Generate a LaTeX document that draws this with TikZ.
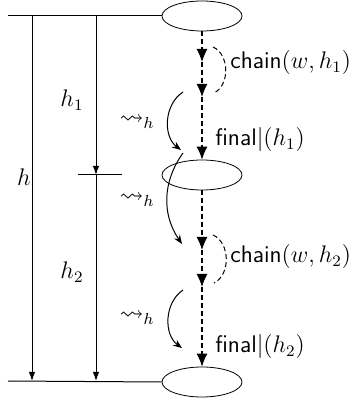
\documentclass[tikz,border=0pt]{standalone}
\usepackage{amsmath}
\usepackage{amssymb}
\usetikzlibrary{arrows.meta,calc,positioning,shapes.geometric}
\tikzset{
    state oval/.style={
        draw,
        ellipse,
        minimum width=40pt,
        minimum height=15pt,
        inner sep=0pt
    },
    time line/.style={line width=0.5pt},
    time arrow/.style={-{Latex[length=4.5pt,width=3.2pt]}, line width=0.5pt},
    chain arrow/.style={-{Latex[length=6.5pt,width=5.5pt]}, line width=0.55pt, dash pattern=on 2.5pt off 1.5pt},
    chain loop/.style={line width=0.5pt, dash pattern=on 2.5pt off 1.5pt},
    lead arrow/.style={-{Stealth[length=4.5pt,width=3.5pt]}, line width=0.5pt},
    step label/.style={anchor=west, inner sep=1pt, font=\large\sffamily}
}
\begin{document}
\begin{tikzpicture}[x=0.5pt,y=0.5pt,font=\large]
    \useasboundingbox (0,0) rectangle (359,400);

    % the three states
    \node[state oval] (top) at (202,384) {};
    \node[state oval] (mid) at (202,225) {};
    \node[state oval] (bot) at (202,18) {};

    % time axis on the left
    \coordinate (toplft) at (8,384);
    \coordinate (botlft) at (8,19);
    \coordinate (midlft) at (78,225);
    \coordinate (midrgt) at (122,225);
    \draw[time line] (toplft) -- (top.west);
    \draw[time line] (botlft) -- (bot.west);
    \draw[time line] (midlft) -- (midrgt);

    \coordinate (hstart) at (32,384);
    \coordinate (hend) at (32,19);
    \coordinate (hastart) at (96,384);
    \coordinate (hamid) at (96,225);
    \coordinate (haend) at (96,19);
    \draw[time arrow] (hstart) -- (hend);
    \draw[time arrow] (hastart) -- (hamid);
    \draw[time arrow] (hamid) -- (haend);

    \node[anchor=east, inner sep=0.5pt] (hlab) at (32,223) {$h$};
    \node (honelab) at (72,300) {$h_1$};
    \node (htwolab) at (72,128) {$h_2$};

    % first block
    \coordinate (ca) at (202,338);
    \coordinate (cb) at (202,303);
    \draw[chain arrow] (top.south) -- (ca);
    \draw[chain arrow] (ca) -- (cb);
    \draw[chain arrow] (cb) -- (mid.north);
    \coordinate (la) at (213,353);
    \coordinate (lb) at (214,307);
    \draw[chain loop] (la) to[bend left=65] (lb);
    \node[step label] (chainone) at (228,337) {chain$(w,h_1)$};
    \node[step label] (finalone) at (213,260) {final$|(h_1)$};

    % second block
    \coordinate (cc) at (202,150);
    \coordinate (cd) at (202,113);
    \draw[chain arrow] (mid.south) -- (cc);
    \draw[chain arrow] (cc) -- (cd);
    \draw[chain arrow] (cd) -- (bot.north);
    \coordinate (lc) at (213,165);
    \coordinate (ld) at (214,117);
    \draw[chain loop] (lc) to[bend left=65] (ld);
    \node[step label] (chaintwo) at (228,143) {chain$(w,h_2)$};
    \node[step label] (finaltwo) at (213,53) {final$|(h_2)$};

    % leads-to steps
    \coordinate (sa) at (183,308);
    \coordinate (sb) at (181,250);
    \coordinate (sc) at (183,247);
    \coordinate (sd) at (182,156);
    \coordinate (se) at (183,110);
    \coordinate (sf) at (182,52);
    \draw[lead arrow] (sa) to[bend right=55] (sb);
    \draw[lead arrow] (sc) to[bend right=35] (sd);
    \draw[lead arrow] (se) to[bend right=55] (sf);
    \node (leadone) at (137,278) {$\leadsto_h$};
    \node (leadtwo) at (137,200) {$\leadsto_h$};
    \node (leadthree) at (137,82) {$\leadsto_h$};
\end{tikzpicture}
\end{document}
